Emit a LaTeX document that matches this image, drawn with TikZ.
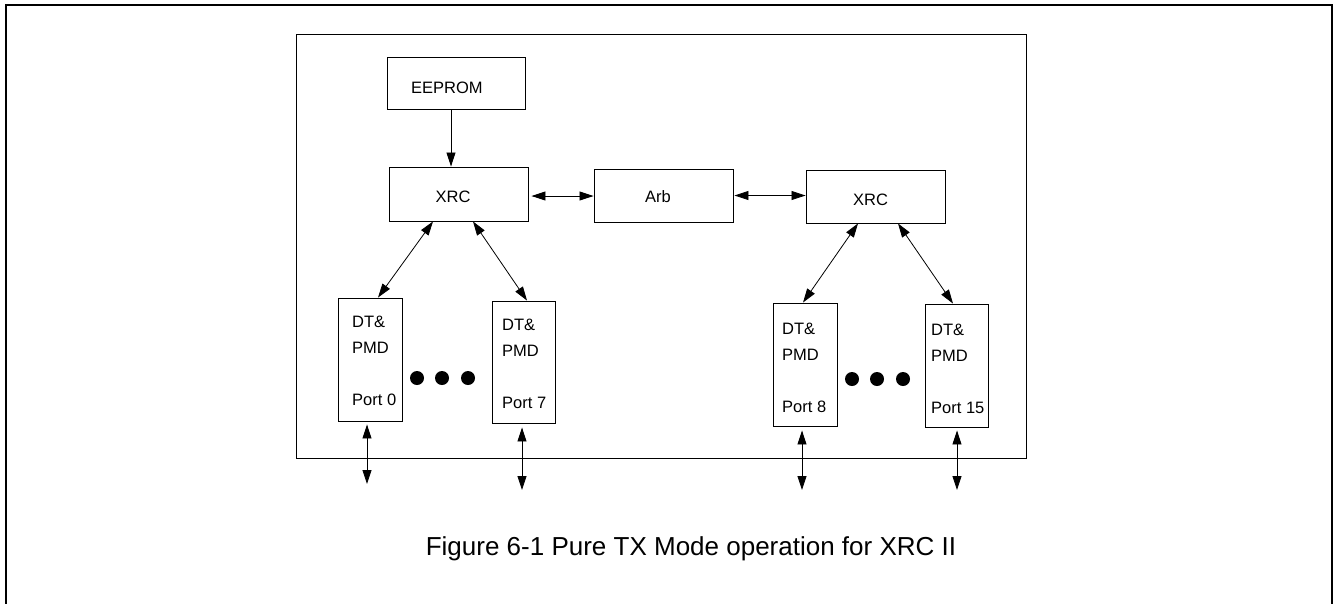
\documentclass[tikz,border=0pt]{standalone}
\usepackage{fontspec}
\setmainfont{Liberation Sans}
\usetikzlibrary{arrows.meta,calc}
\begin{document}
\begin{tikzpicture}[x=1pt,y=-1pt,
  box/.style={draw=black, line width=0.9pt, inner sep=0pt},
  txt/.style={inner sep=0pt, anchor=base, font=\fontsize{16.5}{19}\selectfont},
  ptxt/.style={inner sep=0pt, anchor=base west, font=\fontsize{16.5}{19}\selectfont},
  dot/.style={circle, fill=black, inner sep=0pt, minimum size=14pt},
  tip/.tip={Triangle[length=14pt,width=9pt]},
  arr/.style={line width=0.8pt, -tip},
  darr/.style={line width=0.8pt, tip-tip}]
\useasboundingbox (0,0) rectangle (1334,603);
% outer frame (open at the bottom)
\draw[line width=2pt] (6,604) -- (6,5) -- (1332,5) -- (1332,604);
% inner frame
\node[box, minimum width=730pt, minimum height=424pt] (frame) at (661,246) {};
% top blocks
\node[box, minimum width=138pt, minimum height=52pt] (eeprom) at (456,83) {};
\node[ptxt] (eepromt) at (411,93) {EEPROM};
\node[box, minimum width=139pt, minimum height=54pt] (xrcL) at (458.5,194) {};
\node[txt] (xrcLt) at (453,202) {XRC};
\node[box, minimum width=139pt, minimum height=53pt] (arb) at (663.5,195.5) {};
\node[txt] (arbt) at (658,202) {Arb};
\node[box, minimum width=139pt, minimum height=53pt] (xrcR) at (875.5,196.5) {};
\node[txt] (xrcRt) at (870.5,205) {XRC};
% port blocks
\node[box, minimum width=64pt, minimum height=123pt] (p0) at (370,359.5) {};
\node[box, minimum width=63pt, minimum height=122pt] (p7) at (523.5,362) {};
\node[box, minimum width=64pt, minimum height=123pt] (p8) at (805,364.5) {};
\node[box, minimum width=63pt, minimum height=123pt] (p15) at (956.5,365.5) {};
\node[ptxt] (p0a) at (352,327) {DT\&};
\node[ptxt] (p0b) at (352,353) {PMD};
\node[ptxt] (p0c) at (352,405) {Port 0};
\node[ptxt] (p7a) at (502,330) {DT\&};
\node[ptxt] (p7b) at (502,356) {PMD};
\node[ptxt] (p7c) at (502,408) {Port 7};
\node[ptxt] (p8a) at (782,334) {DT\&};
\node[ptxt] (p8b) at (782,360) {PMD};
\node[ptxt] (p8c) at (782,412) {Port 8};
\node[ptxt] (p15a) at (931,335) {DT\&};
\node[ptxt] (p15b) at (931,361) {PMD};
\node[ptxt] (p15c) at (931,413) {Port 15};
% dots
\node[dot] (d1) at (417,378) {};
\node[dot] (d2) at (442,378) {};
\node[dot] (d3) at (468,378) {};
\node[dot] (d4) at (852,379) {};
\node[dot] (d5) at (877,379) {};
\node[dot] (d6) at (903,379) {};
% connectors
\draw[arr] ([xshift=-5pt]eeprom.south) -- ([xshift=-7.5pt]xrcL.north);
\draw[darr] ([xshift=3pt,yshift=-2pt]xrcL.east) -- ([yshift=-2pt]xrcL.east -| arb.west);
\draw[darr] ([xshift=1pt]arb.east) -- (arb.east -| xrcR.west);
\draw[darr] ([xshift=-25.5pt]xrcL.south) -- ([xshift=8pt]p0.north);
\draw[darr] ([xshift=14.5pt]xrcL.south) -- ([xshift=3.5pt]p7.north);
\draw[darr] ([xshift=-17.5pt]xrcR.south) -- ([xshift=-2pt]p8.north);
\draw[darr] ([xshift=22.5pt]xrcR.south) -- ([xshift=-3.5pt]p15.north);
% external links
\coordinate (e0) at (367,484);
\coordinate (e7) at (522,490);
\coordinate (e8) at (802,490);
\coordinate (e15) at (957,490);
\draw[darr] ([xshift=-3pt,yshift=-3pt]p0.south) -- (e0);
\draw[darr] ([xshift=-1.5pt,yshift=-4pt]p7.south) -- (e7);
\draw[darr] ([xshift=-3pt,yshift=-4pt]p8.south) -- (e8);
\draw[darr] ([xshift=0.5pt,yshift=-3pt]p15.south) -- (e15);
% caption
\node[inner sep=0pt, anchor=base, font=\fontsize{26}{31}\selectfont] (cap) at (691,555) {Figure 6-1 Pure TX Mode operation for XRC II};
\end{tikzpicture}
\end{document}
